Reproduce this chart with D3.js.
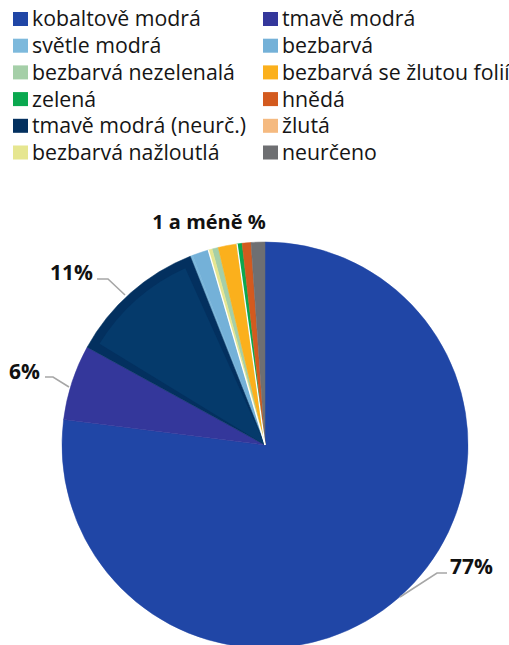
<!DOCTYPE html>
<html>
<head>
<meta charset="utf-8">
<script src="https://cdn.jsdelivr.net/npm/d3@7/dist/d3.min.js"></script>
<style>
  html, body { margin: 0; padding: 0; background: #ffffff; }
  svg { display: block; }
</style>
</head>
<body>
<svg id="chart" width="509" height="645"></svg>
<script>
// Categories in legend order (row by row, two columns)
const categories = [
  "kobaltově modrá", "tmavě modrá",
  "světle modrá", "bezbarvá",
  "bezbarvá nezelenalá", "bezbarvá se žlutou folií",
  "zelená", "hnědá",
  "tmavě modrá (neurč.)", "žlutá",
  "bezbarvá nažloutlá", "neurčeno"
];
// Share of each category, in percent
const values = [77, 6, 0.2, 1.3, 0.5, 1.5, 0.4, 0.7, 11, 0, 0.3, 1.1];
const colors = [
  "#2046a6", "#34379b",
  "#7db9dc", "#74b1d8",
  "#a5cfa8", "#fbb01c",
  "#0aa84f", "#d35a1e",
  "#03305f", "#f5ba80",
  "#e6e690", "#6e6f72"
];
// Clockwise order of the slices, starting at twelve o'clock
const sliceOrder = [
  "kobaltově modrá", "tmavě modrá", "tmavě modrá (neurč.)",
  "světle modrá", "bezbarvá", "žlutá", "bezbarvá nažloutlá",
  "bezbarvá nezelenalá", "bezbarvá se žlutou folií",
  "zelená", "hnědá", "neurčeno"
];
// Slices that carry a printed percentage
const labelled = ["kobaltově modrá", "tmavě modrá", "tmavě modrá (neurč.)"];
const smallGroupLabel = "1 a méně %";

const data = categories.map((name, i) => ({ name, value: values[i], color: colors[i] }));

const svg = d3.select("#chart");
const cx = 265, cy = 445, R = 203;

// ---- legend ----
const legend = svg.append("g").attr("font-family", "'Open Sans', sans-serif");
const colX = [13, 263], rowY0 = 19, rowStep = 26.7;
data.forEach((d, i) => {
  const col = i % 2, row = Math.floor(i / 2);
  const y = rowY0 + row * rowStep;
  legend.append("rect")
    .attr("x", colX[col]).attr("y", y - 7)
    .attr("width", 15).attr("height", 14)
    .attr("fill", d.color);
  legend.append("text")
    .attr("x", colX[col] + 19).attr("y", y)
    .attr("dy", "0.35em")
    .attr("font-size", 21.3)
    .attr("fill", "#151515")
    .text(d.name);
});

// ---- pie ----
const pie = d3.pie()
  .value(d => d.value)
  .sort((a, b) => sliceOrder.indexOf(a.name) - sliceOrder.indexOf(b.name));
const arcs = pie(data).filter(a => a.data.value > 0);

const arc = d3.arc().innerRadius(0).outerRadius(R);
const g = svg.append("g").attr("transform", `translate(${cx},${cy})`);

g.selectAll("path.slice")
  .data(arcs)
  .join("path")
  .attr("class", "slice")
  .attr("d", arc)
  .attr("fill", d => d.data.color)
  .attr("stroke", d => d.data.color)
  .attr("stroke-width", 0.5);

// Bevel face on the dark navy slice: an inset wedge in a lighter shade
const inset = 9;
const bevelArc = d3.arc()
  .innerRadius(0)
  .outerRadius(R - inset)
  .padRadius(R)
  .padAngle(2 * inset / R);
g.selectAll("path.bevel")
  .data(arcs.filter(a => a.data.name === "tmavě modrá (neurč.)"))
  .join("path")
  .attr("class", "bevel")
  .attr("d", bevelArc)
  .attr("fill", "#053a6b");

// Thin light separators after the light-blue and the orange slices
const sepAngles = arcs
  .filter(a => a.data.name === "bezbarvá" || a.data.name === "bezbarvá se žlutou folií")
  .map(a => a.endAngle);
g.selectAll("line.sep")
  .data(sepAngles)
  .join("line")
  .attr("class", "sep")
  .attr("x1", 0).attr("y1", 0)
  .attr("x2", a => R * Math.sin(a))
  .attr("y2", a => -R * Math.cos(a))
  .attr("stroke", "#ffffff")
  .attr("stroke-width", 1.3);

// ---- value labels with leader lines ----
const fmt = v => Math.round(v) + "%";
const labelSpec = {
  "kobaltově modrá": { text: [450, 567], anchor: "start", line: [[400, 597], [437, 573], [447, 573]] },
  "tmavě modrá": { text: [40, 372], anchor: "end", line: [[69, 387], [53, 377], [45, 377]] },
  "tmavě modrá (neurč.)": { text: [93, 273], anchor: "end", line: [[125, 295], [108, 279], [97, 279]] }
};
const labelG = svg.append("g").attr("font-family", "'Open Sans', sans-serif");
arcs.filter(a => labelled.includes(a.data.name)).forEach(a => {
  const s = labelSpec[a.data.name];
  labelG.append("path")
    .attr("d", d3.line()(s.line))
    .attr("fill", "none")
    .attr("stroke", "#a6a6a6")
    .attr("stroke-width", 1.6);
  labelG.append("text")
    .attr("x", s.text[0]).attr("y", s.text[1])
    .attr("dy", "0.35em")
    .attr("text-anchor", s.anchor)
    .attr("font-size", 21)
    .attr("font-weight", "bold")
    .attr("fill", "#111")
    .text(fmt(a.data.value));
});

labelG.append("text")
  .attr("x", 209).attr("y", 222)
  .attr("dy", "0.35em")
  .attr("text-anchor", "middle")
  .attr("font-size", 20)
  .attr("font-weight", "bold")
  .attr("fill", "#111")
  .text(smallGroupLabel);
</script>
</body>
</html>
